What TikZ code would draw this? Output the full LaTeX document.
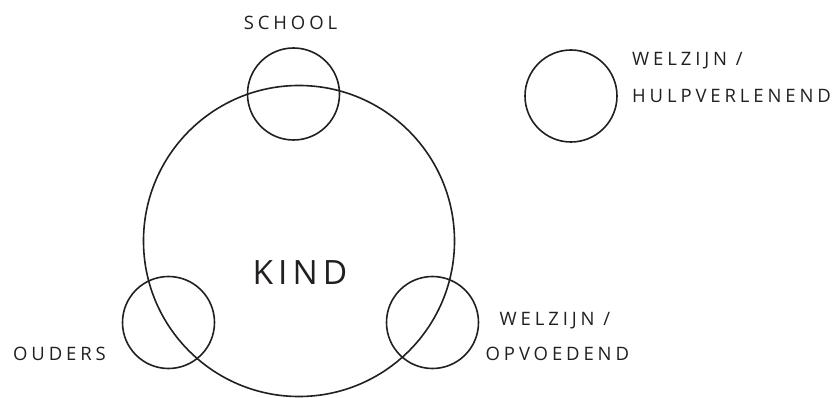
\documentclass[tikz,border=0pt]{standalone}
\usepackage{fontspec}
\setmainfont{Open Sans}
\newfontfamily\lblfont[LetterSpace=21]{Open Sans}
\newfontfamily\kindfont[LetterSpace=15]{Open Sans}
\usetikzlibrary{positioning}
\definecolor{ink}{HTML}{231F20}
\tikzset{
  ring/.style={
    circle,
    draw=ink,
    line width=1.6pt,
    inner sep=0pt
  },
  small/.style={ring, minimum size=92pt},
  big/.style={ring, minimum size=311pt},
  lbl/.style={
    text=ink,
    inner sep=0pt,
    align=left,
    font={\lblfont\fontsize{18.5}{37}\selectfont}
  }
}

\begin{document}
\begin{tikzpicture}[x=1pt, y=-1pt]
  \useasboundingbox (0,0) rectangle (839,398);

  % circles
  \node[big] (kind) at (299,241) {};
  \node[small] (school) at (293.5,94) {};
  \node[small] (ouders) at (168.5,322.5) {};
  \node[small] (opvoed) at (432.5,322.5) {};
  \node[small] (hulp) at (571,96) {};

  % labels
  \node[text=ink, inner sep=0pt, anchor=base, font={\kindfont\fontsize{33.5}{36}\selectfont}]
    (kindlbl) at (300,285) {KIND};
  \node[lbl, anchor=base] (schoollbl) at (290.5,30) {SCHOOL};
  \node[lbl, anchor=base west] (hulplbl) at (632,103) {WELZIJN /\\HULPVERLENEND};
  \node[lbl, anchor=base west] (ouderslbl) at (13,360) {OUDERS};
  \node[lbl, anchor=base west] (opvoedlbl) at (485.5,360.5) {\hspace*{14pt}WELZIJN /\\[-2pt]OPVOEDEND};
\end{tikzpicture}
\end{document}
